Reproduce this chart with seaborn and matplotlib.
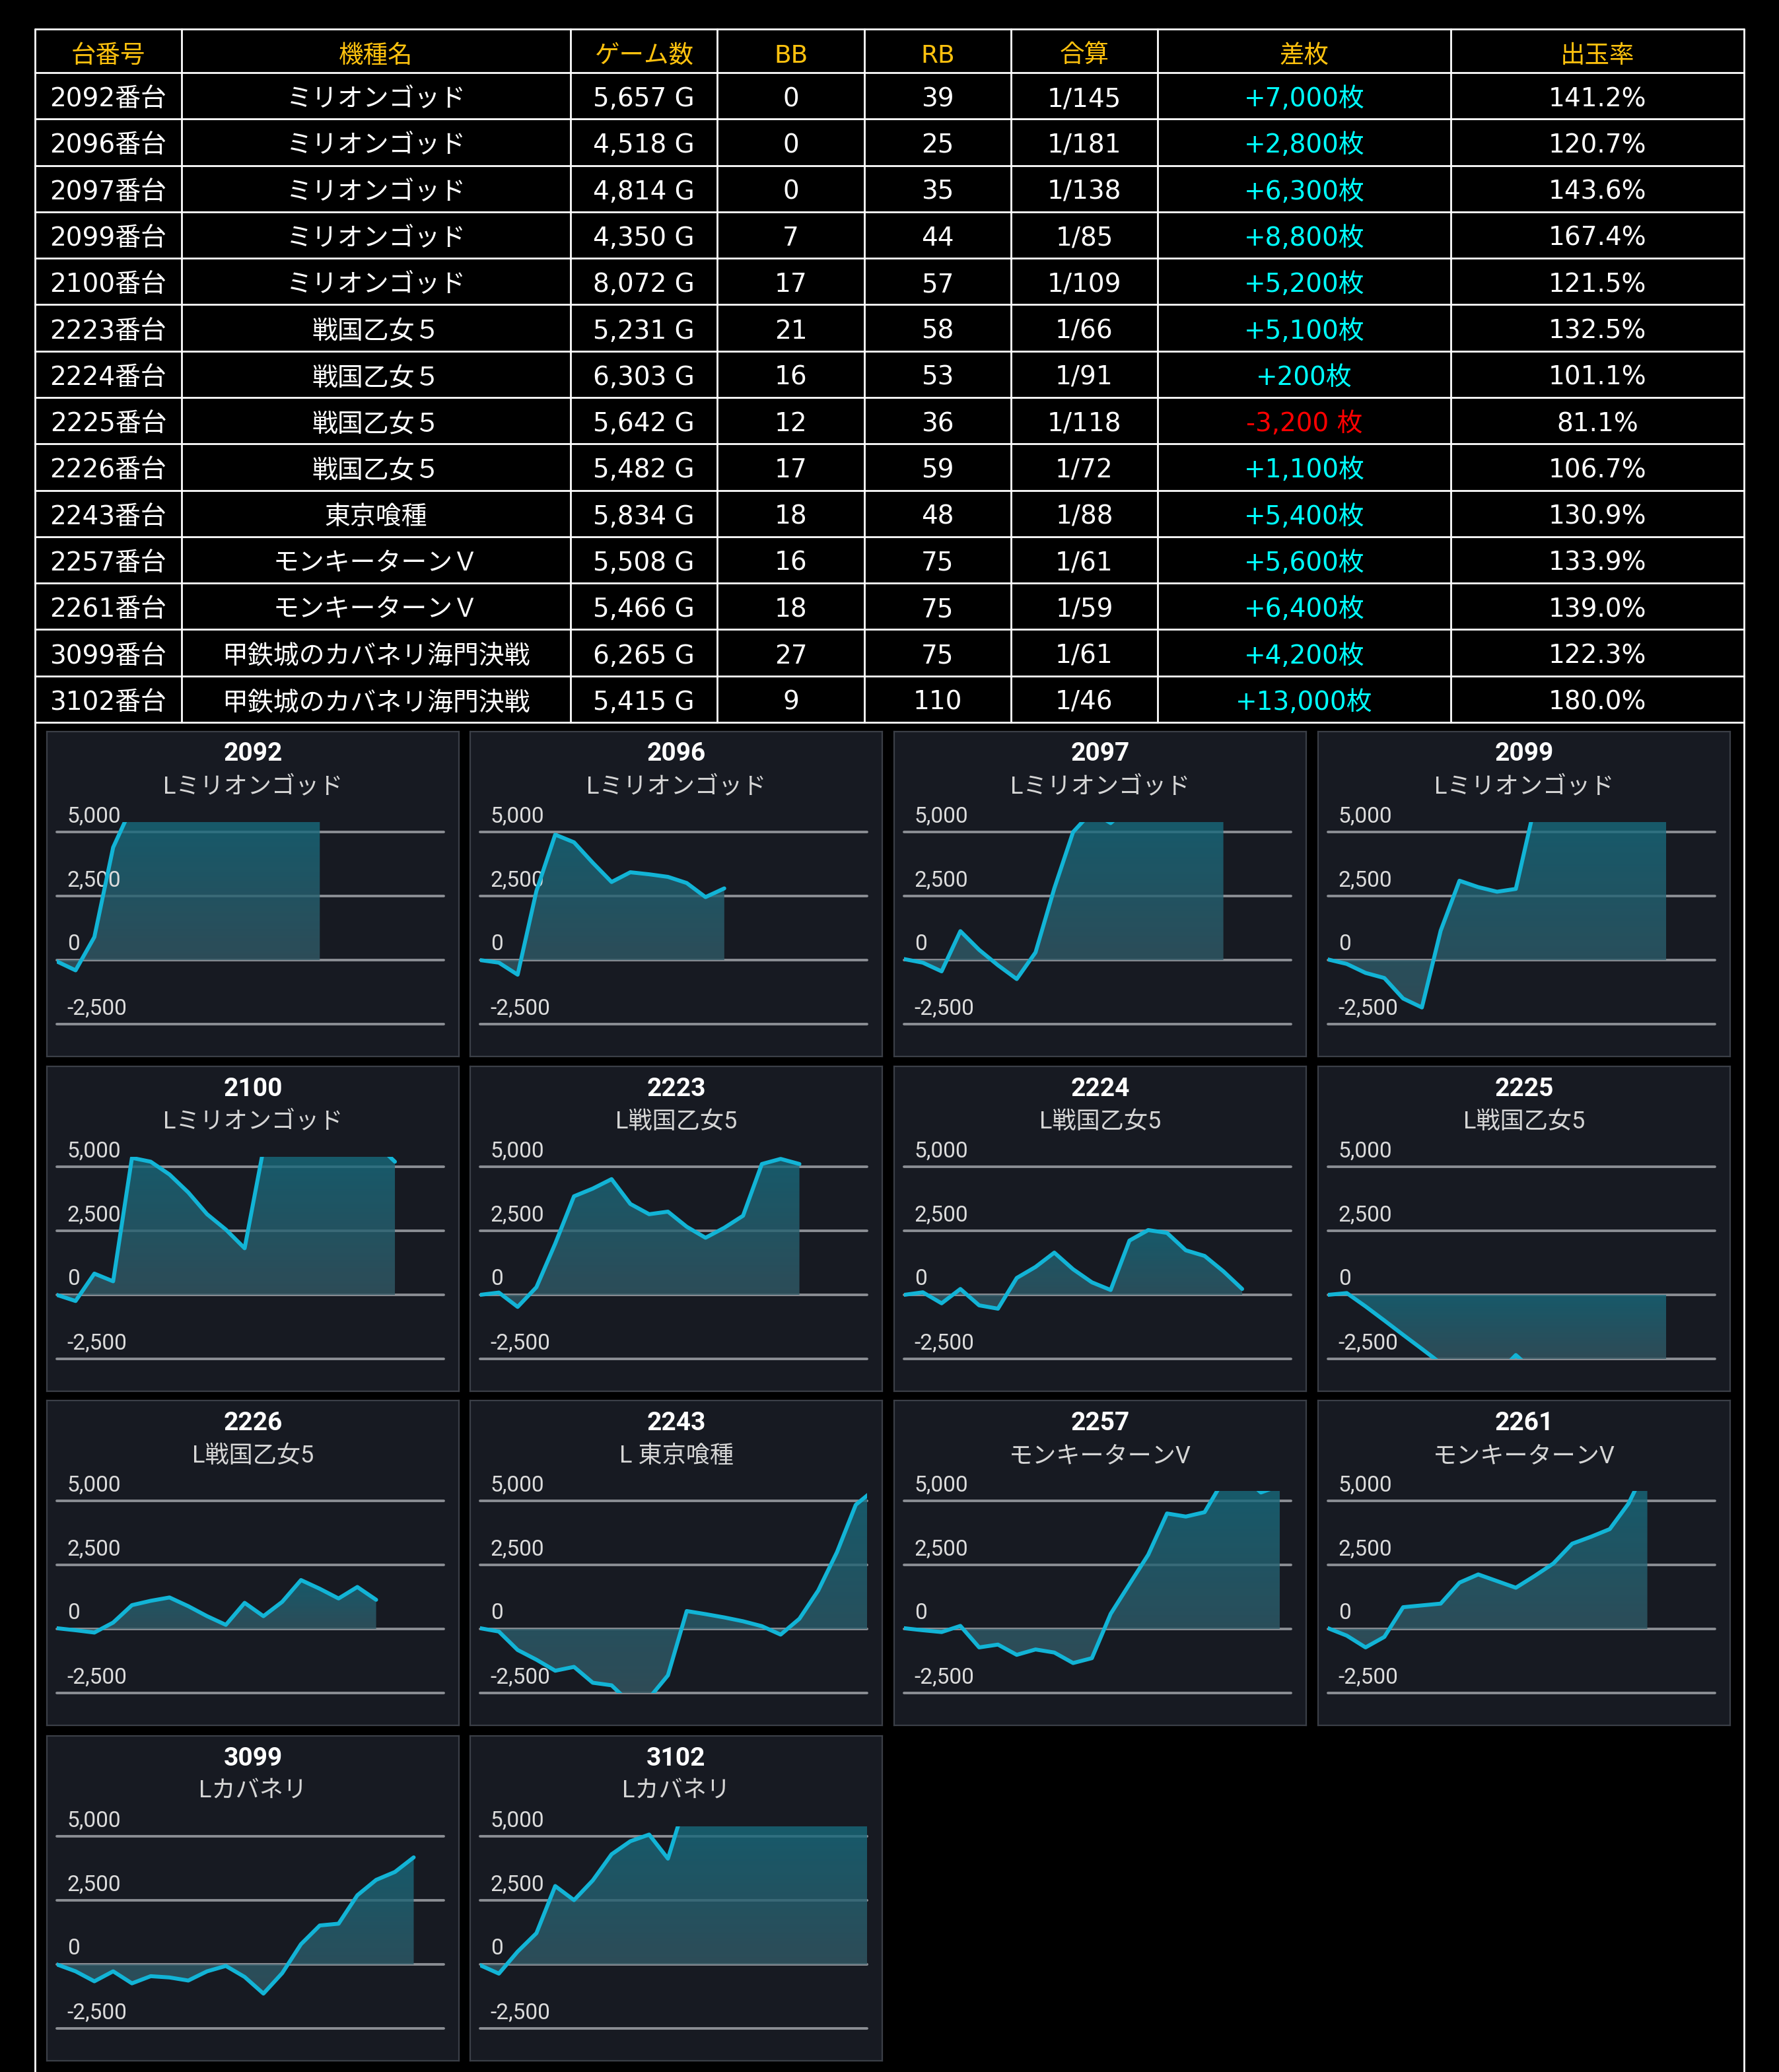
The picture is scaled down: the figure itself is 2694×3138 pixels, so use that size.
"""Slot machine results: summary table plus per-machine slump graphs."""
import numpy as np
import matplotlib
matplotlib.use("Agg")
import matplotlib.pyplot as plt
import seaborn as sns
from matplotlib.colors import LinearSegmentedColormap

# ---- table data ----
machine_ids = [2092, 2096, 2097, 2099, 2100, 2223, 2224, 2225, 2226, 2243, 2257, 2261, 3099, 3102]
model_names = (["ミリオンゴッド"] * 5 + ["戦国乙女５"] * 4 + ["東京喰種"]
               + ["モンキーターンＶ"] * 2 + ["甲鉄城のカバネリ海門決戦"] * 2)
games = [5657, 4518, 4814, 4350, 8072, 5231, 6303, 5642, 5482, 5834, 5508, 5466, 6265, 5415]
bb_counts = [0, 0, 0, 7, 17, 21, 16, 12, 17, 18, 16, 18, 27, 9]
rb_counts = [39, 25, 35, 44, 57, 58, 53, 36, 59, 48, 75, 75, 75, 110]
combined = [145, 181, 138, 85, 109, 66, 91, 118, 72, 88, 61, 59, 61, 46]
diff_medals = [7000, 2800, 6300, 8800, 5200, 5100, 200, -3200, 1100, 5400, 5600, 6400, 4200, 13000]
payout_rate = [141.2, 120.7, 143.6, 167.4, 121.5, 132.5, 101.1, 81.1, 106.7, 130.9, 133.9, 139.0, 122.3, 180.0]
headers = ["台番号", "機種名", "ゲーム数", "BB", "RB", "合算", "差枚", "出玉率"]

# ---- slump graph data (medal difference over the day) ----
chart_names = (["Lミリオンゴッド"] * 5 + ["L戦国乙女5"] * 4
               + ["L 東京喰種", "モンキーターンV", "モンキーターンV", "Lカバネリ", "Lカバネリ"])
slump_2092 = [-50, -400, 900, 4400, 6000, 6600, 7300, 8000, 8700, 9100, 8600, 8000, 7600, 7300, 7000]
slump_2096 = [0, -100, -570, 2700, 4900, 4600, 3800, 3050, 3430, 3350, 3250, 3010, 2460, 2800]
slump_2097 = [40, -100, -440, 1130, 400, -200, -740, 300, 2800, 5000, 5800, 5350, 6000, 6600,
              7100, 7400, 6900, 6300]
slump_2099 = [25, -150, -500, -700, -1500, -1850, 1150, 3100, 2850, 2670, 2780, 6000, 6800, 7500,
              8200, 8900, 9400, 9100, 8800]
slump_2100 = [0, -240, 830, 530, 5350, 5200, 4700, 4000, 3150, 2550, 1820, 5700, 6300, 6900,
              7300, 7000, 6500, 5900, 5200]
slump_2223 = [0, 90, -470, 300, 2000, 3850, 4150, 4520, 3550, 3150, 3250, 2660, 2230, 2620,
              3090, 5110, 5310, 5110]
slump_2224 = [0, 100, -330, 230, -410, -540, 660, 1090, 1650, 1000, 490, 190, 2120, 2530,
              2420, 1740, 1520, 920, 230]
slump_2225 = [0, 70, -450, -1000, -1560, -2110, -2670, -3100, -3300, -3100, -2350, -3000, -3300,
              -3500, -3600, -3450, -3300, -3250, -3200]
slump_2226 = [30, -50, -140, 250, 930, 1100, 1230, 890, 500, 160, 1020, 500, 1060, 1910,
              1570, 1190, 1640, 1140]
slump_2243 = [30, -100, -820, -1200, -1630, -1480, -2100, -2200, -2900, -2700, -1810, 700, 580,
              450, 300, 110, -220, 400, 1500, 3000, 4850, 5450]
slump_2257 = [30, -50, -120, 120, -720, -610, -1010, -800, -920, -1330, -1140, 590, 1750, 2900,
              4510, 4390, 4560, 5800, 6000, 5330, 5600]
slump_2261 = [30, -260, -720, -310, 850, 920, 990, 1810, 2130, 1870, 1610, 2070, 2560, 3330,
              3600, 3900, 4900, 6400]
slump_3099 = [0, -270, -660, -270, -740, -460, -510, -630, -270, -60, -490, -1140, -340, 790,
              1520, 1590, 2700, 3300, 3610, 4180]
slump_3102 = [-30, -360, 500, 1220, 3060, 2510, 3280, 4300, 4810, 5070, 4130, 6500, 7500, 8500,
              9300, 10000, 10800, 11300, 12000, 12400, 12800, 13000]
slumps = [slump_2092, slump_2096, slump_2097, slump_2099, slump_2100, slump_2223, slump_2224,
          slump_2225, slump_2226, slump_2243, slump_2257, slump_2261, slump_3099, slump_3102]
y_ticks = [-2500, 0, 2500, 5000]

W, H = 2694, 3138
GOLD = "#ffc20e"
PANEL = "#171a22"
LINE = "#12b4d6"
GRID = "#8b8e94"
TABLE_FONT = ["DejaVu Sans", "Noto Sans CJK JP"]
CHART_FONT = ["Roboto", "Noto Sans CJK JP"]


def px_box(x0, y0, w, h):
    return [x0 / W, 1 - (y0 + h) / H, w / W, h / H]


def draw_table(fig):
    ax = fig.add_axes([0, 0, 1, 1])
    ax.set_xlim(0, W)
    ax.set_ylim(H, 0)
    ax.axis("off")
    col_edges = [53, 275, 864, 1086, 1309, 1531, 1753, 2197, 2641]
    top, head_bottom, bottom = 44, 110, 1094
    row_h = (bottom - head_bottom) / len(machine_ids)
    row_edges = [top, head_bottom] + [head_bottom + row_h * (i + 1) for i in range(len(machine_ids))]

    for y in row_edges:
        ax.plot([col_edges[0], col_edges[-1]], [y, y], color="white", lw=2.0)
    for x in col_edges[1:-1]:
        ax.plot([x, x], [top, bottom], color="white", lw=2.0)
    for x in (col_edges[0], col_edges[-1]):
        ax.plot([x, x], [top, H], color="white", lw=2.0)

    centers = [(a + b) / 2 for a, b in zip(col_edges[:-1], col_edges[1:])]
    for cx, label in zip(centers, headers):
        ax.text(cx, (top + head_bottom) / 2 + 8, label, color=GOLD, fontsize=27,
                ha="center", va="center", family=TABLE_FONT)

    for i, mid in enumerate(machine_ids):
        cy = head_bottom + row_h * (i + 0.5) + 5
        d = diff_medals[i]
        diff_txt = f"+{d:,}枚" if d >= 0 else f"{d:,} 枚"
        cells = [f"{mid}番台", model_names[i], f"{games[i]:,} G", str(bb_counts[i]),
                 str(rb_counts[i]), f"1/{combined[i]}", diff_txt, f"{payout_rate[i]:.1f}%"]
        colors = ["white"] * 6 + ["#00ffff" if d >= 0 else "#ff0000", "white"]
        for cx, txt, c in zip(centers, cells, colors):
            ax.text(cx, cy, txt, color=c, fontsize=28, ha="center", va="center",
                    family=TABLE_FONT)


def draw_panel(fig, left, top, mid, name, values):
    pw, ph = 624, 492
    pax = fig.add_axes(px_box(left, top, pw, ph))
    pax.set_facecolor(PANEL)
    pax.set_xticks([])
    pax.set_yticks([])
    for s in pax.spines.values():
        s.set_color("#3b3f47")
        s.set_linewidth(1.6)
    pax.text(0.5, 1 - 34 / ph, str(mid), transform=pax.transAxes, ha="center", va="center",
             color="white", fontsize=28, fontweight="bold", family=CHART_FONT)
    pax.text(0.5, 1 - 84 / ph, name, transform=pax.transAxes, ha="center", va="center",
             color="#d6d6d6", fontsize=26, family=CHART_FONT)

    ax = fig.add_axes(px_box(left + 15, top + 137, 586, 306))
    ax.set_facecolor("none")
    ymin, ymax = -2500, 5390
    steps = np.arange(len(values))
    vals = np.array(values, dtype=float)

    for v in y_ticks:
        ax.axhline(v, color=GRID, lw=2.8, zorder=0.5, clip_on=False)
        ax.text(0.027, v + 200, f"{v:,}", transform=ax.get_yaxis_transform(),
                ha="left", va="bottom", color="#dcdcdc", fontsize=24,
                family=CHART_FONT, clip_on=False)

    poly = ax.fill_between(steps, vals, 0, facecolor="none", edgecolor="none")
    path = poly.get_paths()[0]
    hi = min(vals.max(), ymax)
    lo = max(min(vals.min(), 0), ymin)
    cmap = LinearSegmentedColormap.from_list("slump", ["#355864", "#176a7d"])
    grad = np.linspace(0, 1, 256).reshape(-1, 1)
    img = ax.imshow(grad, extent=[0, steps[-1], lo, hi], origin="lower", aspect="auto",
                    cmap=cmap, alpha=0.8, zorder=1, interpolation="bilinear")
    img.set_clip_path(path, ax.transData)

    sns.lineplot(x=steps, y=vals, ax=ax, color=LINE, linewidth=4.3, estimator=None,
                 zorder=3)

    ax.set_xlim(0, 20.6)
    ax.set_ylim(ymin, ymax)
    ax.set_xticks([])
    ax.set_yticks([])
    ax.set_xlabel("")
    ax.set_ylabel("")
    for s in ax.spines.values():
        s.set_visible(False)


def main():
    sns.set_style("dark")
    plt.rcParams["font.family"] = ["DejaVu Sans", "Noto Sans CJK JP"]
    fig = plt.figure(figsize=(W / 100, H / 100), dpi=100, facecolor="black")

    draw_table(fig)

    col_lefts = [71, 712, 1354, 1996]
    row_tops = [1108, 1615, 2121, 2629]
    for i, (mid, name, values) in enumerate(zip(machine_ids, chart_names, slumps)):
        draw_panel(fig, col_lefts[i % 4], row_tops[i // 4], mid, name, values)

    fig.savefig("out.png", dpi=100, facecolor="black")
    plt.close(fig)


if __name__ == "__main__":
    main()
